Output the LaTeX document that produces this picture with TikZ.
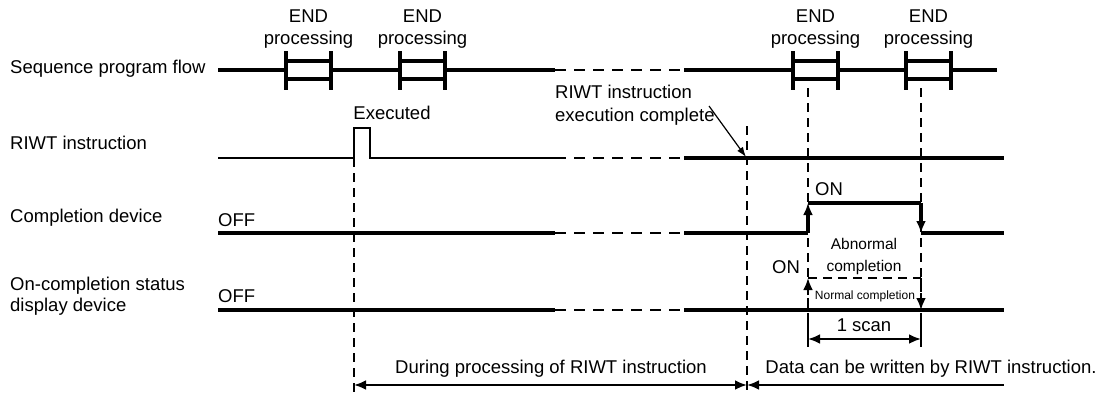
\documentclass[tikz,border=0pt]{standalone}
\usepackage{fontspec}
\setmainfont{Liberation Sans}
\usetikzlibrary{arrows.meta}
\begin{document}
\begin{tikzpicture}[x=1pt,y=-1pt,
  sig/.style={line width=3.2pt},
  thinsig/.style={line width=2pt},
  gapline/.style={line width=2.6pt, dash pattern=on 11pt off 8pt},
  guide/.style={line width=2.4pt, dash pattern=on 9pt off 6pt},
  tipA/.style={-{Latex[length=12pt,width=10pt]}},
  lbl/.style={font=\fontsize{18.5}{22}\selectfont, inner sep=0pt},
  midlbl/.style={font=\fontsize{15.5}{22}\selectfont, inner sep=0pt},
  tinylbl/.style={font=\fontsize{12}{14}\selectfont, inner sep=0pt},
  endbox/.pic={
    \draw[sig] (0,-9) -- (45,-9) (0,9) -- (45,9) (0,-19) -- (0,20) (45,-19) -- (45,20);
    \node[lbl, align=center] (-lab) at (22.5,-41) {END\\processing};
  }]
\useasboundingbox (0,0) rectangle (1104,394);

% left labels
\node[lbl, anchor=west] (lseq) at (10,69) {Sequence program flow};
\node[lbl, anchor=west] (lriwt) at (10,143) {RIWT instruction};
\node[lbl, anchor=west] (lcomp) at (10,218) {Completion device};
\node[lbl, anchor=west, align=left, font=\fontsize{18.5}{21}\selectfont] (lstat) at (10,296) {On-completion status\\display device};
\node[lbl, anchor=west] (off1) at (218,220) {OFF};
\node[lbl, anchor=west] (off2) at (218,296) {OFF};

% sequence program flow
\draw[sig] (218,70) -- (286,70) (331,70) -- (400,70) (445,70) -- (555,70);
\draw[gapline] (555,70) -- (684,70);
\draw[sig] (684,70) -- (793,70) (838,70) -- (906,70) (951,70) -- (997,70);
\pic (b1) at (286,70) {endbox};
\pic (b2) at (400,70) {endbox};
\pic (b3) at (793,70) {endbox};
\pic (b4) at (906,70) {endbox};

% guide dashed verticals
\draw[guide] (354,158) -- (354,394);
\draw[guide] (747,126) -- (747,394);
\draw[guide] (808,88) -- (808,317);
\draw[guide] (921,88) -- (921,317);

% RIWT instruction
\node[lbl] (exec) at (392,113) {Executed};
\draw[thinsig] (218,158) -- (354,158) -- (354,128) -- (370,128) -- (370,158) -- (555,158);
\draw[gapline] (555,158) -- (684,158);
\draw[sig] (684,158) -- (1004,158);
\node[lbl, anchor=west, align=left, font=\fontsize{18.5}{23}\selectfont] (cmpl) at (555,105) {RIWT instruction\\execution complete};
\coordinate (donept) at (746,157);
\draw[line width=1.2pt, -{Latex[length=10pt,width=7pt]}] (709,106) -- (donept);

% completion device
\draw[sig] (218,233) -- (555,233);
\draw[gapline] (555,233) -- (684,233);
\draw[sig] (684,233) -- (808,233);
\draw[sig, tipA] (808,233) -- (808,203);
\draw[sig] (808,203) -- (921,203);
\draw[sig, tipA] (921,203) -- (921,233);
\draw[sig] (921,233) -- (1004,233);
\node[lbl] (on1) at (829,189) {ON};
\node[midlbl, align=center] (abn) at (864,256) {Abnormal\\completion};

% on-completion status display device
\draw[sig] (218,310) -- (555,310);
\draw[gapline] (555,310) -- (684,310);
\draw[sig] (684,310) -- (1004,310);
\draw[guide, tipA] (808,310) -- (808,278);
\draw[guide] (808,278) -- (921,278);
\draw[guide, tipA] (921,278) -- (921,310);
\node[lbl] (on2) at (786,267) {ON};
\node[tinylbl] (norm) at (865,296) {Normal completion};

% 1 scan
\draw[line width=2.6pt] (808,317) -- (808,347) (921,317) -- (921,347);
\draw[line width=2.6pt, {Latex[length=12pt,width=10pt]}-{Latex[length=12pt,width=10pt]}] (808,339) -- (921,339);
\node[lbl] (scan) at (864,325) {1 scan};

% bottom arrows
\draw[line width=2.6pt, {Latex[length=12pt,width=10pt]}-{Latex[length=12pt,width=10pt]}] (354,385) -- (747,385);
\draw[line width=2.6pt, {Latex[length=12pt,width=10pt]}-] (747,385) -- (1004,385);
\node[lbl] (during) at (551,369) {During processing of RIWT instruction};
\node[lbl] (data) at (931,369) {Data can be written by RIWT instruction.};
\end{tikzpicture}
\end{document}
